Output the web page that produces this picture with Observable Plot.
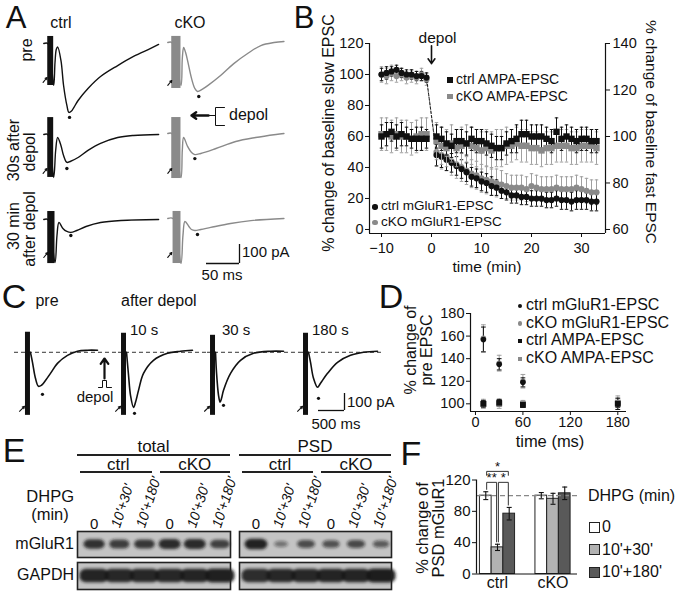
<!DOCTYPE html>
<html><head><meta charset="utf-8">
<script src="https://cdn.jsdelivr.net/npm/d3@7"></script>
<script src="https://cdn.jsdelivr.net/npm/@observablehq/plot@0.6"></script>
<style>
html,body{margin:0;padding:0;background:#fff}
#fig{position:relative;width:677px;height:592px;overflow:hidden;background:#fff;font-family:"Liberation Sans",Arial,Helvetica,sans-serif;color:#111}
#fig .t{position:absolute;white-space:nowrap;line-height:1;transform-origin:0 0}
</style></head><body><div id="fig"></div>
<script>
// ================= DATA =================
// Panel A: traces [time ms, current pA]; artifact [t1,t2,top,bottom]; dot [t,pA]; arrow [t1,pA1,t2,pA2]
const A_ctrlPre = [[0,0],[6,0],[15,-221],[17,-100],[19,-30],[21,-18],[26,-89],[30,-221],[35,-326],[38,-363],[42,-355],[52,-300],[67,-237],[86,-174],[112,-116],[136,-68],[162,-26],[174,-5]];
const A_ckoPre = [[0,0],[6,0],[20,-226],[22,-84],[24,-26],[27,-53],[30,-95],[36,-189],[41,-242],[45,-258],[52,-247],[61,-226],[80,-174],[100,-111],[121,-58],[141,-16],[161,0],[176,5]];
const A_ctrl30s = [[0,0],[6,0],[15,-226],[18,-84],[21,-16],[26,-58],[30,-111],[35,-147],[40,-142],[52,-121],[67,-84],[86,-47],[112,-16],[136,-5],[174,0]];
const A_cko30s = [[0,0],[6,0],[20,-232],[22,-89],[24,-21],[30,-68],[36,-100],[41,-111],[50,-105],[73,-79],[103,-42],[133,-21],[164,-5],[176,0]];
const A_ctrl30m = [[0,0],[6,0],[17,-226],[20,-84],[23,-16],[29,-47],[35,-63],[41,-68],[50,-58],[64,-37],[86,-16],[117,-5],[174,0]];
const A_cko30m = [[0,0],[8,0],[20,-237],[23,-89],[26,-16],[32,-42],[36,-58],[41,-63],[50,-58],[65,-47],[95,-26],[126,-11],[176,0]];
const A_artifacts = [[6,15,37,-221],[6,20,32,-242],[6,15,89,-226],[6,20,84,-237],[6,17,42,-232],[8,20,37,-237]];
const A_dots = [[39,-389],[47,-284],[35,-179],[41,-132],[41,-84],[45,-84]];
const A_arrows = [[-1,-205,5,-179],[0,-226,6,-200],[-1,-205,5,-179],[0,-210,6,-184],[0,-200,6,-174],[0,-205,6,-179]];
const A_scaleBar = [50, 100]; // ms, pA

// Panel B: time course
const B_time = [-10,-9,-8,-7,-6,-5,-4,-3,-2,-1,1,2,3,4,5,6,7,8,9,10,11,12,13,14,15,16,17,18,19,20,21,22,23,24,25,26,27,28,29,30,31,32,33];
const B_ctrlMglu = [100,101,102,103,101,100,100,99,99,98,48,47,45,43,41,39,37,34,33,31,30,28,27,25,24,22,22,21,21,20,20,20,19,19,20,19,19,18,19,19,19,18,18];
const B_ctrlMgluErr = [4,4,3,3,3,3,3,3,3,3,7,7,7,6,6,6,6,6,6,6,6,6,5,5,5,5,5,5,5,5,5,5,5,5,5,6,6,6,6,6,6,6,6];
const B_ckoMglu = [100,99,101,99,100,98,99,98,100,97,50,48,47,44,42,40,38,36,35,33,32,31,30,29,28,27,27,27,26,28,27,26,26,26,27,26,26,26,27,26,25,24,24];
const B_ckoMgluErr = [5,5,5,4,4,4,4,4,4,4,9,9,9,9,9,9,9,9,9,9,9,9,9,9,8,8,8,8,8,8,8,8,8,8,8,8,8,8,8,8,8,8,8];
const B_ctrlAmpa = [100,101,102,100,101,100,99,99,99,99,100,99,97,96,98,98,97,99,98,98,97,96,95,95,97,98,99,101,101,100,100,100,99,98,102,99,100,99,98,99,99,98,98];
const B_ctrlAmpaErr = [5,5,4,5,5,4,4,5,5,4,5,5,5,5,5,5,5,5,5,5,5,5,5,5,5,5,6,6,6,5,5,5,5,5,6,5,5,5,5,5,5,5,5];
const B_ckoAmpa = [101,101,100,101,100,100,99,100,101,101,98,96,95,97,95,96,97,96,95,94,95,94,95,95,96,96,97,96,96,95,95,94,95,95,96,96,96,95,95,96,96,96,95];
const B_ckoAmpaErr = [7,7,7,7,7,7,7,7,7,7,8,8,8,8,8,8,8,8,8,8,8,8,8,8,8,7,7,7,7,7,7,7,7,7,7,7,7,7,7,7,7,7,7];
const B_leftTicks = [0,20,40,60,80,100,120];
const B_rightTicks = [60,80,100,120,140];
const B_xTicks = [-10,0,10,20,30];

// Panel C: traces [time ms, current pA]
const C_pre = [[96,0],[135,-59],[192,-153],[250,-200],[308,-194],[346,-182],[481,-124],[615,-65],[808,-18],[1000,6],[1192,12],[1385,12]];
const C_10s = [[96,0],[135,-135],[173,-253],[231,-324],[269,-294],[327,-224],[423,-124],[615,-47],[885,-6],[1135,6],[1365,12]];
const C_30s = [[96,0],[115,-118],[154,-253],[183,-294],[212,-271],[250,-224],[385,-124],[577,-47],[827,-6],[1154,6],[1404,6]];
const C_180s = [[96,0],[135,-59],[192,-153],[269,-206],[327,-182],[462,-124],[654,-59],[904,-18],[1154,0],[1423,6]];
const C_artifacts = [[0,96,118,-371],[0,96,112,-371],[0,96,100,-371],[0,96,112,-371]];
const C_dots = [[327,-247],[250,-359],[250,-312],[288,-271]];
const C_arrow = [-115,-347,-19,-318];
const C_titles = ['10 s','30 s','180 s'];
const C_scaleBar = [500, 100];

// Panel D
const D_time = [10, 30, 60, 180];
const D_ctrlMglu = [157, 135, 119, 100], D_ctrlMgluErr = [11, 5, 4, 3];
const D_ckoMglu = [158, 136, 120, 101], D_ckoMgluErr = [12, 7, 6, 4];
const D_ctrlAmpa = [100, 101, 99, 100], D_ctrlAmpaErr = [3, 3, 2, 5];
const D_ckoAmpa = [100, 100, 100, 101], D_ckoAmpaErr = [4, 4, 3, 6];
const D_yTicks = [100,120,140,160,180], D_xTicks = [0,60,120,180];

// Panel E: relative band intensities (0..1)
const E_lanes = ['0', "10'+30'", "10'+180'", '0', "10'+30'", "10'+180'"];
const E_totalMglu = [0.82, 0.74, 0.78, 0.86, 0.86, 0.72];
const E_totalGapdh = [0.9, 0.88, 0.88, 0.88, 0.9, 0.93];
const E_psdMglu = [0.92, 0.34, 0.6, 0.56, 0.62, 0.5];
const E_psdGapdh = [0.85, 0.88, 0.88, 0.9, 0.9, 0.95];

// Panel F
const F_groups = ['ctrl', 'cKO'];
const F_dhpg = ['0', "10'+30'", "10'+180'"];
const F_ctrl = [100, 34, 77], F_ctrlErr = [5, 4, 8];
const F_cko = [100, 96, 103], F_ckoErr = [4, 7, 8];
const F_sig = [[0, 2, 131, '*', 'short'], [0, 1, 117, '**', 'bar'], [1, 2, 117, '*', 'bar']];
const F_yTicks = [0, 40, 80, 120];

// ================= HELPERS =================
const fig = document.getElementById('fig');
const FONT = '"Liberation Sans", Arial, Helvetica, sans-serif';
const BLK = '#111', GRY = '#8a8a8a', GRYE = '#a0a0a0';

function plotAt(left, top, opts) {
  const style = Object.assign({background: 'transparent', overflow: 'visible', fontFamily: FONT, fontSize: '14px', color: BLK}, opts.style || {});
  const svg = Plot.plot(Object.assign({}, opts, {style}));
  svg.style.position = 'absolute';
  svg.style.left = left + 'px';
  svg.style.top = top + 'px';
  svg.style.maxWidth = 'none';
  fig.appendChild(svg);
  return svg;
}
function txt(s, x, y, o = {}) {
  const d = document.createElement('div');
  d.className = 't';
  d.textContent = s;
  const tx = o.anchor === 'start' ? '0' : o.anchor === 'end' ? '-100%' : '-50%';
  d.style.left = x + 'px';
  d.style.top = y + 'px';
  d.style.fontSize = (o.size || 15) + 'px';
  if (o.lh) d.style.lineHeight = o.lh;
  if (o.italic) d.style.fontStyle = 'italic';
  if (o.family) d.style.fontFamily = o.family;
  d.style.transform = `rotate(${o.rotate || 0}deg) translate(${tx},-50%)`;
  fig.appendChild(d);
  return d;
}
function hline(x1, x2, y, w = 1.2) {
  const d = document.createElement('div');
  d.style.cssText = `position:absolute;left:${x1}px;top:${y - w / 2}px;width:${x2 - x1}px;height:${w}px;background:#222`;
  fig.appendChild(d);
}
function swatch(x, y, size, css) {
  const d = document.createElement('div');
  d.style.cssText = `position:absolute;box-sizing:border-box;left:${x - size / 2}px;top:${y - size / 2}px;width:${size}px;height:${size}px;${css}`;
  fig.appendChild(d);
}
const P0 = d => d[0], P1 = d => d[1];

function tracePlot(x0, y0, sc, xd, yd, line, art, dot, arrow, color, dashed) {
  const w = (xd[1] - xd[0]) * sc.sx, h = (yd[1] - yd[0]) * sc.sy;
  const marks = [];
  if (dashed) marks.push(Plot.ruleY([0], {stroke: '#333', strokeDasharray: '4,3', strokeWidth: 1}));
  marks.push(
    Plot.line(line, {x: P0, y: P1, stroke: color, strokeWidth: sc.sw, curve: 'catmull-rom'}),
    Plot.rect([art], {x1: d => d[0], x2: d => d[1], y1: d => d[2], y2: d => d[3], fill: color}),
    Plot.dot([dot], {x: P0, y: P1, r: sc.dr, fill: BLK}),
    Plot.arrow([arrow], {x1: d => d[0], y1: d => d[1], x2: d => d[2], y2: d => d[3], stroke: BLK, strokeWidth: 1.1, headLength: 3.5})
  );
  return plotAt(x0 + xd[0] * sc.sx, y0 - yd[1] * sc.sy, {width: w, height: h, margin: 0,
    x: {domain: xd, axis: null}, y: {domain: yd, axis: null}, marks});
}
function scaleBar(xr, yb, sc, bar) {
  const w = bar[0] * sc.sx, h = bar[1] * sc.sy;
  plotAt(xr - w, yb - h, {width: w, height: h, margin: 0,
    x: {domain: [0, bar[0]], axis: null}, y: {domain: [0, bar[1]], axis: null},
    marks: [Plot.ruleY([0], {strokeWidth: 1.3}), Plot.ruleX([bar[0]], {strokeWidth: 1.3})]});
}
function glyph(left, top, w, h, marks) {
  return plotAt(left, top, {width: w, height: h, margin: 0,
    x: {domain: [0, w], axis: null}, y: {domain: [h, 0], axis: null}, marks});
}
function series(times, vals, errs, conv = v => v) {
  return times.map((t, i) => ({t, v: conv(vals[i]), lo: conv(vals[i] - errs[i]), hi: conv(vals[i] + errs[i])}));
}
function errorMarks(data, color, cap, sw = 1) {
  return [
    Plot.ruleX(data, {x: 't', y1: 'lo', y2: 'hi', stroke: color, strokeWidth: sw}),
    Plot.link(data, {x1: d => d.t - cap, x2: d => d.t + cap, y1: 'hi', y2: 'hi', stroke: color, strokeWidth: sw}),
    Plot.link(data, {x1: d => d.t - cap, x2: d => d.t + cap, y1: 'lo', y2: 'lo', stroke: color, strokeWidth: sw})
  ];
}

// ================= PANEL LETTERS =================
txt('A', 16, 18, {size: 31, lh: 0.8});
txt('B', 304, 18, {size: 31, lh: 0.8});
[['C', 14, 297], ['D', 391, 297], ['E', 14, 451], ['F', 411, 454]]
  .forEach(([s, x, y]) => txt(s, x, y, {size: 34, lh: 0.8}));

// ================= PANEL A =================
const SA = {sx: 0.66, sy: 0.19, sw: 1.4, dr: 1.7};
const AXD = [-8, 180], AYD = [-420, 100];
const A_rows = [[A_ctrlPre, A_ckoPre, 43, 42], [A_ctrl30s, A_cko30s, 134, 133], [A_ctrl30m, A_cko30m, 219, 218]];
A_rows.forEach(([c, k, yc, yk], r) => {
  tracePlot(43, yc, SA, AXD, AYD, c, A_artifacts[2 * r], A_dots[2 * r], A_arrows[2 * r], BLK, false);
  tracePlot(167, yk, SA, AXD, AYD, k, A_artifacts[2 * r + 1], A_dots[2 * r + 1], A_arrows[2 * r + 1], GRY, false);
});
txt('ctrl', 61, 23, {size: 16});
txt('cKO', 190, 23, {size: 16});
txt('pre', 27, 50, {size: 16, rotate: -90});
txt('30s after', 14, 150, {size: 16, rotate: -90});
txt('depol', 30, 152, {size: 16, rotate: -90});
txt('30 min', 14, 226, {size: 16, rotate: -90});
txt('after depol', 30, 229, {size: 16, rotate: -90});
scaleBar(239, 263, SA, A_scaleBar);
txt(A_scaleBar[1] + ' pA', 242, 251, {size: 15, anchor: 'start'});
txt(A_scaleBar[0] + ' ms', 222, 274, {size: 15});
// depol symbol (arrow + pulse)
glyph(188, 102, 42, 28, [
  Plot.arrow([0], {x1: 20, y1: 13, x2: 3, y2: 13, stroke: BLK, strokeWidth: 2.4, headLength: 7, headAngle: 70}),
  Plot.line([[19, 13], [27, 13], [27, 5], [36, 5]], {x: P0, y: P1, stroke: BLK, strokeWidth: 1}),
  Plot.line([[27, 13], [27, 23], [36, 23]], {x: P0, y: P1, stroke: BLK, strokeWidth: 1})
]);
txt('depol', 229, 115, {size: 16, anchor: 'start'});

// ================= PANEL B =================
const B_X = [-12.4, 34.8], B_Y = [-2.6, 120];
const toLeft = v => (v - 60) * 1.5;
const bCtrlM = series(B_time, B_ctrlMglu, B_ctrlMgluErr);
const bCkoM = series(B_time, B_ckoMglu, B_ckoMgluErr);
const bCtrlA = series(B_time, B_ctrlAmpa, B_ctrlAmpaErr, toLeft);
const bCkoA = series(B_time, B_ckoAmpa, B_ckoAmpaErr, toLeft);
plotAt(320, 0, {
  width: 357, height: 270, marginLeft: 49, marginRight: 72, marginTop: 43, marginBottom: 37,
  x: {domain: B_X}, y: {domain: B_Y},
  style: {fontSize: '14.5px'},
  marks: [
    Plot.axisY({ticks: B_leftTicks, tickSize: 4, tickPadding: 2, label: null}),
    Plot.axisY({anchor: 'right', ticks: B_rightTicks.map(toLeft), tickFormat: d => d / 1.5 + 60, tickSize: 4, tickPadding: 3, label: null}),
    Plot.axisX({ticks: B_xTicks, tickSize: 4, tickPadding: 5, label: null}),
    Plot.ruleX([B_X[0], B_X[1]], {y1: B_Y[0], y2: B_Y[1], stroke: BLK, strokeWidth: 1.2}),
    Plot.ruleY([B_Y[0]], {x1: B_X[0], x2: B_X[1], stroke: BLK, strokeWidth: 1.2}),
    ...errorMarks(bCkoM, GRYE, 0.35),
    Plot.line(bCkoM, {x: 't', y: 'v', stroke: '#777', strokeDasharray: '2,2', strokeWidth: 0.8}),
    ...errorMarks(bCtrlM, BLK, 0.35),
    Plot.line(bCtrlM, {x: 't', y: 'v', stroke: BLK, strokeDasharray: '2.5,2', strokeWidth: 0.9}),
    Plot.dot(bCkoM, {x: 't', y: 'v', r: 3.1, fill: GRY}),
    Plot.dot(bCtrlM, {x: 't', y: 'v', r: 3.1, fill: BLK}),
    ...errorMarks(bCkoA, GRYE, 0.35),
    ...errorMarks(bCtrlA, BLK, 0.35),
    Plot.dot(bCkoA, {x: 't', y: 'v', r: 3.6, symbol: 'square', fill: GRY}),
    Plot.dot(bCtrlA, {x: 't', y: 'v', r: 3.6, symbol: 'square', fill: BLK}),
    Plot.arrow([0], {x1: 0, x2: 0, y1: 118.5, y2: 107, stroke: BLK, strokeWidth: 1.6, headLength: 6, headAngle: 70}),
    Plot.text(['depol'], {x: 0, y: 123.5, text: d => d, dx: 6, fontSize: 15.5})
  ]
});
txt('% change of baseline slow EPSC', 329, 133, {size: 16, rotate: -90});
txt('% change of baseline fast EPSC', 651, 132, {size: 15.5, rotate: 90});
txt('time (min)', 487, 267, {size: 15.5});
swatch(450, 80, 5.5, `background:${BLK}`);
txt('ctrl AMPA-EPSC', 456, 79, {size: 14, anchor: 'start'});
swatch(450, 96.5, 5.5, `background:${GRY}`);
txt('cKO AMPA-EPSC', 456, 95.5, {size: 14, anchor: 'start'});
swatch(375, 207, 5.5, `background:${BLK};border-radius:50%`);
txt('ctrl mGluR1-EPSC', 381, 206, {size: 13.5, anchor: 'start'});
swatch(375, 222.5, 5.5, `background:${GRY};border-radius:50%`);
txt('cKO mGluR1-EPSC', 381, 221.5, {size: 13.5, anchor: 'start'});

// ================= PANEL C =================
const SC = {sx: 0.052, sy: 0.17, sw: 1.6, dr: 1.6};
const CYD = [-420, 140];
const C_traces = [C_pre, C_10s, C_30s, C_180s];
const C_x0 = [25, 121, 210, 303];
const C_xd = [[-211, 1788], [-58, 1654], [-58, 1731], [-58, 1520]];
C_traces.forEach((tr, i) => tracePlot(C_x0[i], 352, SC, C_xd[i], CYD, tr, C_artifacts[i], C_dots[i], C_arrow, BLK, true));
txt('pre', 47, 301, {size: 16});
txt('after depol', 121, 301, {size: 16, anchor: 'start'});
C_titles.forEach((s, i) => txt(s, [130, 222, 312][i], 329, {size: 15, anchor: 'start'}));
glyph(96, 355, 17, 36, [
  Plot.arrow([0], {x1: 8, y1: 23, x2: 8, y2: 3, stroke: BLK, strokeWidth: 2.2, headLength: 7, headAngle: 70}),
  Plot.line([[2, 32], [6, 32], [6, 25], [10, 25], [10, 32], [15, 32]], {x: P0, y: P1, stroke: BLK, strokeWidth: 1})
]);
txt('depol', 95, 396, {size: 15});
scaleBar(344, 410, SC, C_scaleBar);
txt(C_scaleBar[1] + ' pA', 347, 401, {size: 15, anchor: 'start'});
txt(C_scaleBar[0] + ' ms', 336, 423, {size: 15});

// ================= PANEL D =================
const D_X = [-6.3, 191], D_Y = [93.2, 180];
const dCtrlM = series(D_time, D_ctrlMglu, D_ctrlMgluErr);
const dCkoM = series(D_time, D_ckoMglu, D_ckoMgluErr);
const dCtrlA = series(D_time, D_ctrlAmpa, D_ctrlAmpaErr);
const dCkoA = series(D_time, D_ckoAmpa, D_ckoAmpaErr);
plotAt(420, 290, {
  width: 257, height: 161, marginLeft: 50, marginRight: 51, marginTop: 23, marginBottom: 40,
  x: {domain: D_X}, y: {domain: D_Y},
  style: {fontSize: '14.5px'},
  marks: [
    Plot.axisY({ticks: D_yTicks, tickSize: 4, tickPadding: 2, label: null}),
    Plot.axisX({ticks: D_xTicks, tickSize: 4, tickPadding: 1, label: null}),
    Plot.ruleX([D_X[0]], {y1: D_Y[0], y2: D_Y[1], stroke: BLK, strokeWidth: 1.2}),
    Plot.ruleY([D_Y[0]], {x1: D_X[0], x2: D_X[1], stroke: BLK, strokeWidth: 1.2}),
    ...errorMarks(dCkoM, GRYE, 3),
    ...errorMarks(dCtrlM, BLK, 3),
    ...errorMarks(dCkoA, GRYE, 3),
    ...errorMarks(dCtrlA, BLK, 3),
    Plot.dot(dCkoM, {x: 't', y: 'v', r: 2.8, fill: GRY}),
    Plot.dot(dCtrlM, {x: 't', y: 'v', r: 2.8, fill: BLK}),
    Plot.dot(dCkoA, {x: 't', y: 'v', r: 3.3, symbol: 'square', fill: GRY}),
    Plot.dot(dCtrlA, {x: 't', y: 'v', r: 3.3, symbol: 'square', fill: BLK})
  ]
});
txt('% change of', 411, 350, {size: 16, rotate: -90});
txt('pre EPSC', 427, 350, {size: 16, rotate: -90});
txt('time (ms)', 550, 441, {size: 16.5});
[['ctrl mGluR1-EPSC', BLK, true], ['cKO mGluR1-EPSC', GRY, true], ['ctrl AMPA-EPSC', BLK, false], ['cKO AMPA-EPSC', GRY, false]]
  .forEach(([s, c, circ], i) => {
    const y = 306 + i * 17.6;
    swatch(520, y, 4.5, `background:${c};${circ ? 'border-radius:50%' : ''}`);
    txt(s, 526, y - 1, {size: 16, anchor: 'start'});
  });

// ================= PANEL E =================
const E_DOM = [-0.68, 5.4];
function blot(left, top, w, h, vals, gapdh) {
  const rows = vals.map((v, i) => ({i, v}));
  const hw = d => gapdh ? 0.58 : 0.18 + 0.3 * d.v;
  const hh = d => gapdh ? 0.4 + 0.12 * d.v : 0.12 + 0.3 * d.v;
  const svg = plotAt(left, top, {width: w, height: h, margin: 0,
    x: {domain: E_DOM, axis: null}, y: {domain: [-1, 1], axis: null},
    marks: [
      Plot.frame({fill: '#c4c4c4'}),
      Plot.rect(rows, {x1: d => d.i - hw(d), x2: d => d.i + hw(d), y1: d => -hh(d), y2: d => hh(d), rx: 6, fill: '#161616', fillOpacity: d => 0.2 + 0.8 * d.v}),
      Plot.frame({stroke: '#222', strokeWidth: 1.6})
    ]});
  const id = 'bl' + Math.round(left) + '_' + Math.round(top);
  const defs = d3.select(svg).insert('defs', ':first-child');
  defs.append('filter').attr('id', id).attr('x', '-30%').attr('y', '-80%').attr('width', '160%').attr('height', '260%')
    .append('feGaussianBlur').attr('stdDeviation', 1.5);
  d3.select(svg).selectAll('g[aria-label="rect"]').attr('filter', `url(#${id})`);
  return svg;
}
const E_boxes = [[77, 153, E_totalMglu, E_totalGapdh, 'total'], [239, 152, E_psdMglu, E_psdGapdh, 'PSD']];
E_boxes.forEach(([bx, bw, mg, ga, title]) => {
  blot(bx, 531, bw, 26, mg, false);
  blot(bx, 562, bw, 27, ga, true);
  const lx = i => bx + (i - E_DOM[0]) * bw / (E_DOM[1] - E_DOM[0]);
  txt(title, bx + bw / 2, 446, {size: 17});
  hline(bx, bx + bw, 455);
  txt('ctrl', (lx(0) + lx(2)) / 2 - 1, 464, {size: 17});
  hline(bx + 3, bx + bw * 0.49, 472);
  txt('cKO', (lx(3) + lx(5)) / 2, 464, {size: 17});
  hline(bx + bw * 0.54, bx + bw, 472);
  E_lanes.forEach((s, i) => {
    if (s === '0') txt(s, lx(i), 523, {size: 15});
    else txt(s, lx(i) - 4, 527, {size: 14, italic: true, anchor: 'start', rotate: -72});
  });
});
txt('DHPG', 74, 496, {size: 16.5, anchor: 'end'});
txt('(min)', 50, 514, {size: 16.5});
txt('mGluR1', 74, 544, {size: 16, anchor: 'end'});
txt('GAPDH', 74, 575, {size: 16, anchor: 'end'});

// ================= PANEL F =================
const F_X = [-0.378, 1.441], BW = 0.211;
const fRows = [];
[F_ctrl, F_cko].forEach((vals, g) => vals.forEach((v, k) => {
  const e = (g === 0 ? F_ctrlErr : F_ckoErr)[k];
  fRows.push({g, k, dhpg: F_dhpg[k], v, e, t: g + (k - 1) * BW, lo: v - e, hi: v + e});
}));
const xc = (g, k) => g + (k - 1) * BW;
const fSigLines = [], fSigText = [];
F_sig.forEach(([a, b, h, lab, mode]) => {
  const ra = fRows[a], rb = fRows[b];
  const botA = mode === 'short' ? h - 5 : ra.hi + 3;
  const botB = mode === 'short' ? h - 5 : rb.hi + 3;
  const xa = xc(0, a) + 0.016, xb = xc(0, b) - 0.016;
  fSigLines.push([[xa, botA], [xa, h], [xb, h], [xb, botB]]);
  fSigText.push({x: (xa + xb) / 2, y: h + 0.5, lab});
});
plotAt(420, 440, {
  width: 160, height: 152, marginLeft: 56, marginRight: 3, marginTop: 39.5, marginBottom: 18.5,
  x: {domain: F_X}, y: {domain: [0, 120]},
  color: {domain: F_dhpg, range: ['#ffffff', '#b2b2b2', '#595959']},
  style: {fontSize: '15px'},
  marks: [
    Plot.axisY({ticks: F_yTicks, tickSize: 4, tickPadding: 2, label: null}),
    Plot.axisX({ticks: [0, 1], tickFormat: i => F_groups[i], tickSize: 0, tickPadding: 3, label: null, fontSize: 16}),
    Plot.rect(fRows, {x1: d => d.t - BW / 2, x2: d => d.t + BW / 2, y1: 0, y2: 'v', fill: 'dhpg', stroke: '#222', strokeWidth: 1}),
    Plot.ruleY([100], {x1: F_X[0], x2: F_X[1], stroke: '#888', strokeDasharray: '5,3', strokeWidth: 1.2}),
    ...errorMarks(fRows, BLK, 0.045, 1.1),
    ...fSigLines.map(p => Plot.line(p, {x: P0, y: P1, stroke: '#333', strokeWidth: 1})),
    Plot.text(fSigText, {x: 'x', y: 'y', text: 'lab', fontSize: 13, lineAnchor: 'bottom'}),
    Plot.ruleX([F_X[0]], {y1: 0, y2: 120, stroke: BLK, strokeWidth: 1.2}),
    Plot.ruleY([0], {x1: F_X[0], x2: F_X[1], stroke: BLK, strokeWidth: 1.2})
  ]
});
txt('% change of', 422, 528, {size: 16.5, rotate: -90});
txt('PSD mGluR1', 438, 528, {size: 16.5, rotate: -90});
txt('DHPG (min)', 588, 496, {size: 16, anchor: 'start'});
const F_fills = ['#ffffff', '#b2b2b2', '#595959'];
F_dhpg.forEach((s, i) => {
  const y = 527 + i * 22.5;
  swatch(594, y, 11, `background:${F_fills[i]};border:1.2px solid #222`);
  txt(s, 602, y, {size: 16, anchor: 'start'});
});
</script></body></html>
